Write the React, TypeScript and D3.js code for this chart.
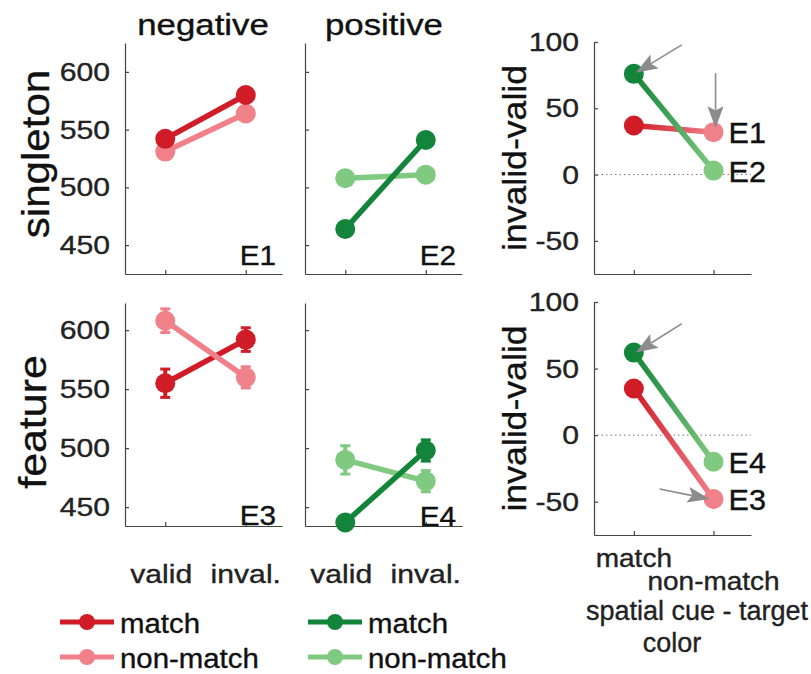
import { useEffect, useRef } from "react";
import * as d3 from "d3";

const xTickLabels = ["valid", "inval."];
const cueTickLabels = ["match", "non-match"];
const rtTicks = [450, 500, 550, 600];
const diffTicks = [-50, 0, 50, 100];

// reaction times in ms, [valid, invalid]
const e1Match = [542, 580];
const e1NonMatch = [531, 564];
const e2Match = [464, 541];
const e2NonMatch = [508, 511];
const e3Match = [555, 592];
const e3NonMatch = [608, 560];
const e4Match = [437, 498];
const e4NonMatch = [490, 472];
// error bars (ms)
const e1Err = [3, 3];
const e2Err = [3, 3];
const e3MatchErr = [12, 10];
const e3NonMatchErr = [10, 9];
const e4MatchErr = [5, 9];
const e4NonMatchErr = [12, 9];

// invalid - valid, [match, non-match]
const diffE1 = [37, 32];
const diffE2 = [76, 3];
const diffE3 = [35, -48];
const diffE4 = [62, -20];
const diffE3Err = [3, 7];

const darkRed = "#d01c27";
const lightRed = "#f0818a";
const darkGreen = "#13853a";
const lightGreen = "#80c980";
const axisColor = "#444";
const FONT = "'Liberation Sans', Arial, sans-serif";

function label(g, x, y, str, opt: any = {}) {
  const { size = 24, sx = 1, anchor = "start", rotate = 0, color = "#1a1a1a" } = opt;
  return g
    .append("text")
    .attr("transform", `translate(${x},${y}) rotate(${rotate}) scale(${sx},1)`)
    .attr("text-anchor", anchor)
    .attr("fill", color)
    .attr("stroke", color)
    .attr("stroke-width", 0.35)
    .style("font-size", size + "px")
    .text(str);
}

function App() {
  const ref = useRef(null);

  useEffect(() => {
    const svg = d3.select(ref.current);
    svg.selectAll("*").remove();
    const defs = svg.append("defs");

    const xDomain = [0.5, 2.45];
    const panelW = 157;

    const drawAxes = (g, x, y, ticks, tickLabels) => {
      g.append("g")
        .attr("transform", `translate(${x.range()[0]},0)`)
        .call(d3.axisLeft(y).tickValues(ticks).tickSize(-4).tickSizeOuter(0).tickFormat(() => ""))
        .call((a) => a.selectAll("path,line").attr("stroke", axisColor).attr("stroke-width", 1.2));
      g.append("g")
        .attr("transform", `translate(0,${y.range()[0]})`)
        .call(d3.axisBottom(x).tickValues([1, 2]).tickSize(-4).tickSizeOuter(0).tickFormat(() => ""))
        .call((a) => a.selectAll("path,line").attr("stroke", axisColor).attr("stroke-width", 1.2));
      if (tickLabels) {
        ticks.forEach((t) => {
          label(g, x.range()[0] - 15, y(t) + 9, String(t), { size: 26, sx: 1.16, anchor: "end", color: "#222" });
        });
      }
    };

    const drawSeries = (g, x, y, values, errs, color) => {
      g.append("path")
        .datum(values)
        .attr("fill", "none")
        .attr("stroke", color)
        .attr("stroke-width", 5.5)
        .attr("d", d3.line().x((d, i) => x(i + 1)).y((d) => y(d)));
      values.forEach((v, i) => {
        const e = errs[i];
        g.append("line")
          .attr("x1", x(i + 1)).attr("x2", x(i + 1))
          .attr("y1", y(v - e)).attr("y2", y(v + e))
          .attr("stroke", color).attr("stroke-width", 4);
        [v - e, v + e].forEach((c) => {
          g.append("line")
            .attr("x1", x(i + 1) - 5).attr("x2", x(i + 1) + 5)
            .attr("y1", y(c)).attr("y2", y(c))
            .attr("stroke", color).attr("stroke-width", 3);
        });
        g.append("circle").attr("cx", x(i + 1)).attr("cy", y(v)).attr("r", 10).attr("fill", color);
      });
    };

    const rtPanel = (left, top, bottom, yDomain, showLabels, tag, series) => {
      const g = svg.append("g");
      const x = d3.scaleLinear().domain(xDomain).range([left, left + panelW]);
      const y = d3.scaleLinear().domain(yDomain).range([bottom, top]);
      drawAxes(g, x, y, rtTicks, showLabels);
      series.forEach((s) => drawSeries(g, x, y, s.values, s.errs, s.color));
      label(g, left + panelW - 6, bottom - tag.dy, tag.text, { size: 27, sx: 1.1, anchor: "end", color: "#111" });
      return { x, y, g };
    };

    // grey annotation arrow, tip at (tx, ty), tail offset by (dx, dy)
    const arrow = (g, tx, ty, dx, dy) => {
      const len = Math.hypot(dx, dy);
      const ux = -dx / len, uy = -dy / len;
      const head = 22, half = 8;
      const bx = tx - ux * head, by = ty - uy * head;
      const nx = tx - ux * head * 0.8, ny = ty - uy * head * 0.8;
      g.append("line")
        .attr("x1", tx + dx).attr("y1", ty + dy).attr("x2", nx).attr("y2", ny)
        .attr("stroke", "#8c8c8c").attr("stroke-width", 1.6);
      g.append("polygon")
        .attr("points", [
          [tx, ty],
          [bx - uy * half, by + ux * half],
          [nx, ny],
          [bx + uy * half, by - ux * half],
        ].map((p) => p.join(",")).join(" "))
        .attr("fill", "#8c8c8c");
    };

    const diffPanel = (left, top, bottom, id, series, tags) => {
      const g = svg.append("g");
      const x = d3.scaleLinear().domain([0.5, 2.47]).range([left, left + panelW]);
      const y = d3.scaleLinear().domain([-75, 100]).range([bottom, top]);
      drawAxes(g, x, y, diffTicks, true);
      g.append("line")
        .attr("x1", x.range()[0] + 3).attr("x2", x.range()[1])
        .attr("y1", y(0)).attr("y2", y(0))
        .attr("stroke", "#777").attr("stroke-width", 1).attr("stroke-dasharray", "1.5,3");
      series.forEach((s, k) => {
        const gid = `${id}-${k}`;
        const grad = defs.append("linearGradient").attr("id", gid)
          .attr("gradientUnits", "userSpaceOnUse")
          .attr("x1", x(1)).attr("x2", x(2)).attr("y1", 0).attr("y2", 0);
        grad.append("stop").attr("offset", "0%").attr("stop-color", s.colors[0]);
        grad.append("stop").attr("offset", "100%").attr("stop-color", s.colors[1]);
        g.append("path")
          .datum(s.values)
          .attr("fill", "none")
          .attr("stroke", `url(#${gid})`)
          .attr("stroke-width", 5.5)
          .attr("d", d3.line().x((d, i) => x(i + 1)).y((d) => y(d)));
        s.values.forEach((v, i) => {
          const e = s.errs[i];
          g.append("line")
            .attr("x1", x(i + 1)).attr("x2", x(i + 1))
            .attr("y1", y(v - e)).attr("y2", y(v + e))
            .attr("stroke", s.colors[i]).attr("stroke-width", 4);
          g.append("circle").attr("cx", x(i + 1)).attr("cy", y(v)).attr("r", 10).attr("fill", s.colors[i]);
        });
      });
      tags.forEach((t) => {
        label(g, x(2) + 15, y(t.value) + 11, t.text, { size: 30, sx: 1.02, color: "#111" });
      });
      label(g, left - 68, (top + bottom) / 2, "invalid-valid", { size: 33, sx: 1.08, anchor: "middle", rotate: -90, color: "#111" });
      return { x, y, g };
    };

    // column titles
    label(svg, 203, 35, "negative", { size: 29, sx: 1.2, anchor: "middle", color: "#111" });
    label(svg, 384, 35, "positive", { size: 29, sx: 1.2, anchor: "middle", color: "#111" });
    // row titles
    label(svg, 49, 154, "singleton", { size: 39, sx: 1.08, anchor: "middle", rotate: -90, color: "#111" });
    label(svg, 46, 422, "feature", { size: 39, sx: 1.1, anchor: "middle", rotate: -90, color: "#111" });

    const p1 = rtPanel(125, 43, 274, [425, 625], true, { text: "E1", dy: 9 }, [
      { values: e1NonMatch, errs: e1Err, color: lightRed },
      { values: e1Match, errs: e1Err, color: darkRed },
    ]);
    const p2 = rtPanel(305, 43, 274, [425, 625], false, { text: "E2", dy: 9 }, [
      { values: e2NonMatch, errs: e2Err, color: lightGreen },
      { values: e2Match, errs: e2Err, color: darkGreen },
    ]);
    const p4 = rtPanel(125, 303, 526, [434, 623], true, { text: "E3", dy: 1 }, [
      { values: e3Match, errs: e3MatchErr, color: darkRed },
      { values: e3NonMatch, errs: e3NonMatchErr, color: lightRed },
    ]);
    const p5 = rtPanel(305, 303, 526, [434, 623], false, { text: "E4", dy: 0 }, [
      { values: e4NonMatch, errs: e4NonMatchErr, color: lightGreen },
      { values: e4Match, errs: e4MatchErr, color: darkGreen },
    ]);

    // x tick labels under the bottom row
    [p4, p5].forEach((p) => {
      xTickLabels.forEach((t, i) => {
        label(svg, p.x(i + 1) - (i === 0 ? 4 : 0), 583, t, { size: 26, sx: 1.16, anchor: "middle", color: "#222" });
      });
    });

    const p3 = diffPanel(594, 42, 274, "gtop", [
      { values: diffE1, errs: [2, 2], colors: [darkRed, lightRed] },
      { values: diffE2, errs: [2, 2], colors: [darkGreen, lightGreen] },
    ], [
      { value: diffE1[1], text: "E1" },
      { value: diffE2[1], text: "E2" },
    ]);
    arrow(p3.g, p3.x(1) + 2, p3.y(diffE2[0]) - 1, 46, -28);
    arrow(p3.g, p3.x(2) + 2, p3.y(diffE1[1]) - 4, 0, -55);

    const p6 = diffPanel(594, 302, 535, "gbot", [
      { values: diffE3, errs: diffE3Err, colors: [darkRed, lightRed] },
      { values: diffE4, errs: [2, 2], colors: [darkGreen, lightGreen] },
    ], [
      { value: diffE4[1], text: "E4" },
      { value: diffE3[1], text: "E3" },
    ]);
    arrow(p6.g, p6.x(1) + 2, p6.y(diffE4[0]), 46, -29);
    arrow(p6.g, p6.x(2) - 4, p6.y(diffE3[1]), -50, -10);

    // staggered cue labels
    cueTickLabels.forEach((t, i) => {
      label(svg, p6.x(i + 1), i === 0 ? 567 : 590, t, { size: 25, sx: 1.12, anchor: "middle", color: "#222" });
    });
    label(svg, 697, 620, "spatial cue - target", { size: 27, sx: 1.0, anchor: "middle", color: "#222" });
    label(svg, 672, 652, "color", { size: 27, sx: 1.0, anchor: "middle", color: "#222" });

    // legends
    const legend = (cx, items) => {
      items.forEach((it, i) => {
        const cy = 622 + i * 35;
        svg.append("line")
          .attr("x1", cx - 27).attr("x2", cx + 27).attr("y1", cy).attr("y2", cy)
          .attr("stroke", it.color).attr("stroke-width", 5);
        svg.append("circle").attr("cx", cx).attr("cy", cy).attr("r", 8).attr("fill", it.color);
        label(svg, cx + 33, cy + 11, it.text, { size: 28, sx: 1.05, color: "#111" });
      });
    };
    legend(87, [
      { text: cueTickLabels[0], color: darkRed },
      { text: cueTickLabels[1], color: lightRed },
    ]);
    legend(335, [
      { text: cueTickLabels[0], color: darkGreen },
      { text: cueTickLabels[1], color: lightGreen },
    ]);
  }, []);

  return (
    <svg
      ref={ref}
      width={811}
      height={674}
      style={{ position: "absolute", left: 0, top: 0, background: "#fff", fontFamily: FONT }}
    />
  );
}

export default App;
